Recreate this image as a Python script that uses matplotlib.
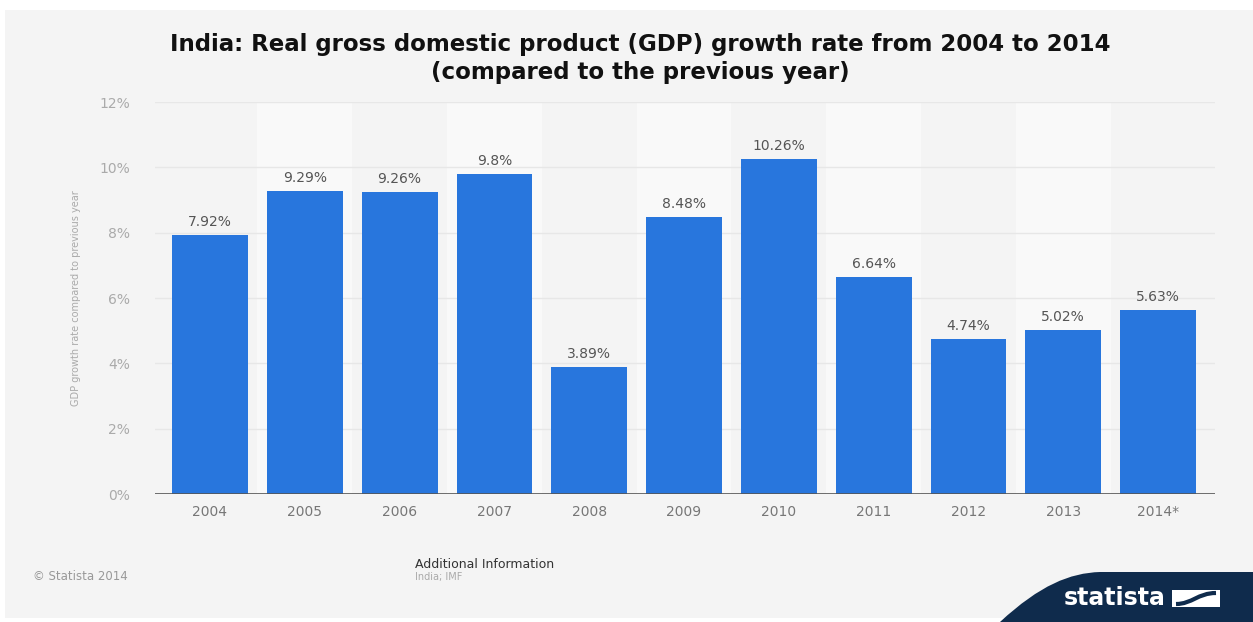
import numpy as np
import matplotlib
matplotlib.use("Agg")
import matplotlib.pyplot as plt
from matplotlib.patches import Rectangle, PathPatch
from matplotlib.path import Path

years = ["2004", "2005", "2006", "2007", "2008", "2009", "2010",
         "2011", "2012", "2013", "2014*"]
growth = [7.92, 9.29, 9.26, 9.8, 3.89, 8.48, 10.26, 6.64, 4.74, 5.02, 5.63]
value_labels = ["7.92%", "9.29%", "9.26%", "9.8%", "3.89%", "8.48%",
                "10.26%", "6.64%", "4.74%", "5.02%", "5.63%"]
yticks = [0, 2, 4, 6, 8, 10, 12]

W, H = 1253, 622
BG = "#f4f4f4"
BAND = "#f9f9f9"
BLUE = "#2876dd"
NAVY = "#0f2b4c"


def fx(px):
    return px / W


def fy(py):
    return 1 - py / H


fig = plt.figure(figsize=(W / 100, H / 100), dpi=100)
fig.patch.set_facecolor("white")

# grey panel behind everything
fig.add_artist(Rectangle((fx(5), fy(618)), fx(1253) - fx(5), fy(10) - fy(618),
                         transform=fig.transFigure, facecolor=BG,
                         edgecolor="none", zorder=-10))

ax = fig.add_axes([fx(155), fy(494), fx(1215) - fx(155), fy(102) - fy(494)])
ax.set_facecolor("none")
x = np.arange(len(years))

# alternating light bands on odd columns
for i in x:
    if i % 2 == 1:
        ax.axvspan(i - 0.5, i + 0.5, color=BAND, zorder=0, lw=0)

for t in yticks[1:]:
    ax.axhline(t, color="#e7e7e7", lw=1, zorder=1)
ax.axhline(0, color="#555555", lw=1.2, zorder=3)

ax.bar(x, growth, width=0.8, color=BLUE, zorder=2)
for xi, v, lab in zip(x, growth, value_labels):
    ax.text(xi, v + 0.18, lab, ha="center", va="bottom", fontsize=10,
            color="#555555")

ax.set_xlim(-0.58, 10.6)
ax.set_ylim(0, 12)
ax.set_xticks(x)
ax.set_xticklabels(years, fontsize=10, color="#777777")
ax.set_yticks(yticks)
ax.set_yticklabels([f"{t}%" for t in yticks], fontsize=10, color="#aaaaaa")
ax.tick_params(length=0)
ax.tick_params(axis="y", pad=18)
ax.tick_params(axis="x", pad=8)
for s in ax.spines.values():
    s.set_visible(False)
ax.set_ylabel("GDP growth rate compared to previous year", fontsize=7,
              color="#aaaaaa", labelpad=13)

fig.text(fx(640), fy(45), "India: Real gross domestic product (GDP) growth rate from 2004 to 2014",
         ha="center", va="center", fontsize=16.5, fontweight="bold", color="#111111")
fig.text(fx(640), fy(72), "(compared to the previous year)",
         ha="center", va="center", fontsize=16.5, fontweight="bold", color="#111111")

# footer
fig.text(fx(33), fy(577), "© Statista 2014", fontsize=8.5, color="#999999", va="center")
fig.text(fx(415), fy(564), "Additional Information", fontsize=9, color="#333333", va="center")
fig.text(fx(415), fy(577), "India; IMF", fontsize=7, color="#aaaaaa", va="center")

# statista logo block
verts = [(fx(1000), fy(622)), (fx(1040), fy(585)), (fx(1070), fy(573)),
         (fx(1100), fy(572)), (fx(1253), fy(572)), (fx(1253), fy(622)),
         (fx(1000), fy(622))]
codes = [Path.MOVETO, Path.CURVE4, Path.CURVE4, Path.CURVE4,
         Path.LINETO, Path.LINETO, Path.CLOSEPOLY]
fig.add_artist(PathPatch(Path(verts, codes), transform=fig.transFigure,
                         facecolor=NAVY, edgecolor="none", zorder=5))
fig.text(fx(1115), fy(598), "statista", fontsize=17, fontweight="bold",
         color="white", ha="center", va="center", zorder=6)
fig.add_artist(Rectangle((fx(1172), fy(607)), fx(48), fy(590) - fy(607),
                         transform=fig.transFigure, facecolor="white",
                         edgecolor="none", zorder=6))
wave = [(fx(1176), fy(604)), (fx(1192), fy(604)), (fx(1198), fy(593)),
        (fx(1216), fy(593))]
fig.add_artist(PathPatch(Path(wave, [Path.MOVETO, Path.CURVE4, Path.CURVE4, Path.CURVE4]),
                         transform=fig.transFigure, facecolor="none",
                         edgecolor=NAVY, lw=3, zorder=7))

fig.savefig("out.png", dpi=100, facecolor=fig.get_facecolor())
